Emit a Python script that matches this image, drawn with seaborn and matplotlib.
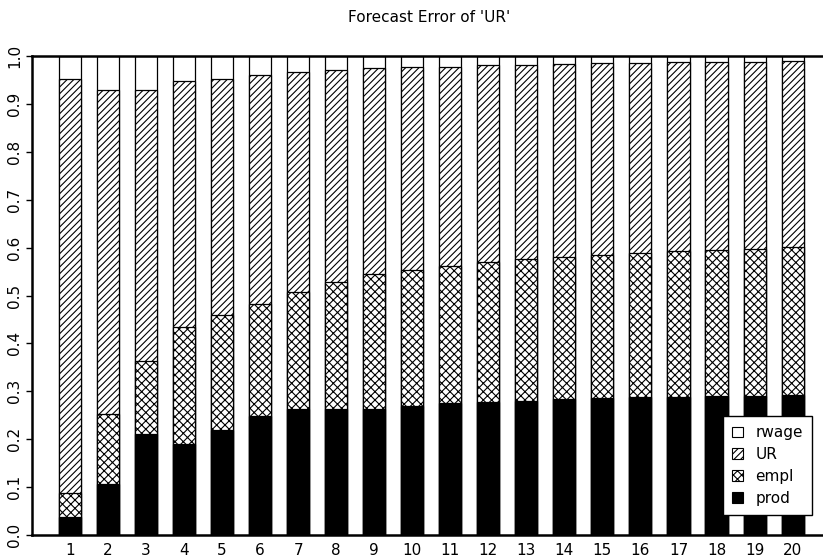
import numpy as np
import pandas as pd
import matplotlib
matplotlib.use("Agg")
import matplotlib.pyplot as plt
from matplotlib.patches import Patch
import seaborn as sns

# ---- data (shares of forecast error variance of 'UR') ----
horizon = list(range(1, 21))
prod = [0.037, 0.106, 0.211, 0.191, 0.219, 0.248, 0.264, 0.263, 0.263, 0.270,
        0.275, 0.278, 0.280, 0.283, 0.287, 0.288, 0.289, 0.290, 0.290, 0.292]
empl = [0.050, 0.146, 0.152, 0.243, 0.240, 0.234, 0.243, 0.266, 0.281, 0.283,
        0.287, 0.291, 0.296, 0.297, 0.297, 0.300, 0.304, 0.305, 0.308, 0.309]
ur = [0.866, 0.676, 0.567, 0.514, 0.494, 0.479, 0.459, 0.441, 0.430, 0.423,
      0.416, 0.412, 0.405, 0.403, 0.401, 0.397, 0.394, 0.392, 0.389, 0.388]
rwage = [0.047, 0.072, 0.070, 0.052, 0.047, 0.039, 0.034, 0.030, 0.026, 0.024,
         0.022, 0.019, 0.019, 0.017, 0.015, 0.015, 0.013, 0.013, 0.013, 0.011]
series_names = ["prod", "empl", "UR", "rwage"]
y_ticks = [0.0, 0.1, 0.2, 0.3, 0.4, 0.5, 0.6, 0.7, 0.8, 0.9, 1.0]
title = "Forecast Error of 'UR'"

sns.set_theme(style="white")
plt.rcParams["font.family"] = ["DejaVu Sans"]
plt.rcParams["hatch.linewidth"] = 0.8
plt.rcParams["hatch.color"] = "black"
plt.rcParams["text.color"] = "black"
plt.rcParams["xtick.color"] = "black"
plt.rcParams["ytick.color"] = "black"
plt.rcParams["xtick.labelcolor"] = "black"
plt.rcParams["ytick.labelcolor"] = "black"

df = pd.DataFrame({"h": horizon, "prod": prod, "empl": empl, "UR": ur, "rwage": rwage})
cum = df[series_names].cumsum(axis=1)

fig = plt.figure(figsize=(8.23, 5.58), dpi=100)
ax = fig.add_axes([32 / 823, 23 / 558, 1 - 32 / 823, (535 - 56) / 558])

layers = [
    ("rwage", "white", ""),
    ("UR", "white", "/////"),
    ("empl", "white", "xxxx"),
    ("prod", "black", ""),
]
for name, col, hatch in layers:
    sns.barplot(x=df["h"], y=cum[name], native_scale=True, width=0.58,
                color=col, saturation=1, edgecolor="black", linewidth=0.9,
                hatch=hatch, errorbar=None, ax=ax)

ax.set_xlim(0, 20.8)
ax.set_ylim(0, 1.0)
ax.set_xticks(horizon)
ax.set_xticklabels([str(h) for h in horizon], fontsize=11)
ax.set_yticks(y_ticks)
ax.set_yticklabels([f"{v:.1f}" for v in y_ticks], rotation=90, va="center", fontsize=11)
ax.tick_params(axis="x", length=0, pad=6, colors="black")
ax.tick_params(axis="y", length=4, width=1, direction="out", pad=3, left=True, colors="black")
ax.set_xlabel("")
ax.set_ylabel("")
for s in ["top", "bottom", "left"]:
    ax.spines[s].set_linewidth(1.8)
    ax.spines[s].set_color("black")
ax.spines["right"].set_visible(False)

fig.text(429 / 823, 1 - 18 / 558, title, ha="center", va="center", fontsize=11, color="black")

handles = [
    Patch(facecolor="white", edgecolor="black", linewidth=0.8, label="rwage"),
    Patch(facecolor="white", edgecolor="black", linewidth=0.8, hatch="/////", label="UR"),
    Patch(facecolor="white", edgecolor="black", linewidth=0.8, hatch="xxxx", label="empl"),
    Patch(facecolor="black", edgecolor="black", linewidth=0.8, label="prod"),
]
leg = ax.legend(handles=handles, loc="lower right",
                bbox_to_anchor=(812 / 823, 43 / 558), bbox_transform=fig.transFigure,
                fontsize=11, frameon=True, fancybox=False, framealpha=1,
                edgecolor="black", borderpad=0.6, labelspacing=0.45,
                handlelength=0.7, handleheight=0.7, handletextpad=0.8,
                borderaxespad=0)
leg.get_frame().set_linewidth(1.0)
for t in leg.get_texts():
    t.set_color("black")

fig.savefig("out.png", dpi=100)
